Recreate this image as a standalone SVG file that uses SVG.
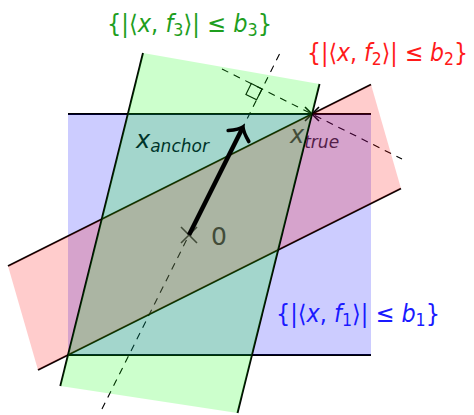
<svg xmlns="http://www.w3.org/2000/svg" width="474" height="415" viewBox="0 0 474 415">
<style>
.edge{stroke:#000;stroke-width:1.9;fill:none}
.dash{stroke:#000;stroke-width:1.1;fill:none;stroke-dasharray:7 6}
.fill{stroke:none;fill-opacity:0.2}
.lbl{font-family:"DejaVu Sans","Liberation Sans",sans-serif}
.it{font-style:italic}
.math{font-family:"DejaVu Sans","Liberation Sans",sans-serif;font-size:24px}
</style>
<rect width="474" height="415" fill="#fff"/>
<g id="connectors">
  <line class="dash" x1="279.5" y1="54" x2="99.5" y2="414"/>
  <line class="dash" x1="222" y1="69" x2="402" y2="159"/>
  <path d="M262,89 L256.6,99.7 L245.9,94.4 L251.3,83.6 Z" fill="none" stroke="#000" stroke-width="1.1"/>
</g>
<g id="point-origin">
  <path d="M181,227 L197,243 M197,227 L181,243" stroke="#333" stroke-width="1.6"/>
  <text x="211" y="245" class="lbl" font-size="25" fill="#333">0</text>
</g>
<g id="point-xtrue">
  <path d="M305,107 L319,121 M319,107 L305,121" stroke="#000" stroke-width="1.6"/>
  <text x="290" y="143" class="lbl it" font-size="24" fill="#333">x<tspan font-size="17" dy="5">true</tspan></text>
</g>
<g id="label-xanchor">
  <text x="136" y="148" class="lbl it" font-size="24" fill="#000">x<tspan font-size="17" dy="4">anchor</tspan></text>
</g>
<g id="band-f1">
  <line class="edge" x1="68" y1="114" x2="371" y2="114"/>
  <line class="edge" x1="68" y1="355" x2="371" y2="355"/>
  <rect class="fill" x="68" y="114" width="303" height="241" fill="#0000ff"/>
</g>
<g id="band-f2">
  <line class="edge" x1="8" y1="266" x2="371" y2="84.5"/>
  <line class="edge" x1="38" y1="370" x2="401" y2="188.5"/>
  <polygon class="fill" points="8,266 371,84.5 401,188.5 38,370" fill="#ff0000"/>
</g>
<g id="band-f3">
  <line class="edge" x1="143" y1="53" x2="60.3" y2="386"/>
  <line class="edge" x1="319.5" y1="84" x2="237.5" y2="413"/>
  <polygon class="fill" points="143,53 319.5,84 237.5,413 60.3,386" fill="#00ff00"/>
</g>
<g id="arrow-anchor">
  <line x1="189" y1="235" x2="242" y2="129" stroke="#000" stroke-width="4.5"/>
  <path d="M228.2,130.5 Q239.4,129.5 243,127 Q243.2,131.8 248.8,141.5" fill="none" stroke="#000" stroke-width="3.6" stroke-linecap="round"/>
</g>
<g id="label-f3">
  <text x="107" y="32" class="math" fill="#1e9e1e" textLength="165" lengthAdjust="spacingAndGlyphs">{|⟨<tspan class="it">x</tspan>, <tspan class="it">f</tspan><tspan font-size="17" dy="4">3</tspan><tspan dy="-4">⟩| ≤ </tspan><tspan class="it">b</tspan><tspan font-size="17" dy="4">3</tspan><tspan dy="-4">}</tspan></text>
</g>
<g id="label-f2">
  <text x="307" y="61" class="math" fill="#ff1a1a" textLength="161" lengthAdjust="spacingAndGlyphs">{|⟨<tspan class="it">x</tspan>, <tspan class="it">f</tspan><tspan font-size="17" dy="4">2</tspan><tspan dy="-4">⟩| ≤ </tspan><tspan class="it">b</tspan><tspan font-size="17" dy="4">2</tspan><tspan dy="-4">}</tspan></text>
</g>
<g id="label-f1">
  <text x="276" y="322" class="math" fill="#1a1aff" textLength="164" lengthAdjust="spacingAndGlyphs">{|⟨<tspan class="it">x</tspan>, <tspan class="it">f</tspan><tspan font-size="17" dy="4">1</tspan><tspan dy="-4">⟩| ≤ </tspan><tspan class="it">b</tspan><tspan font-size="17" dy="4">1</tspan><tspan dy="-4">}</tspan></text>
</g>
</svg>
